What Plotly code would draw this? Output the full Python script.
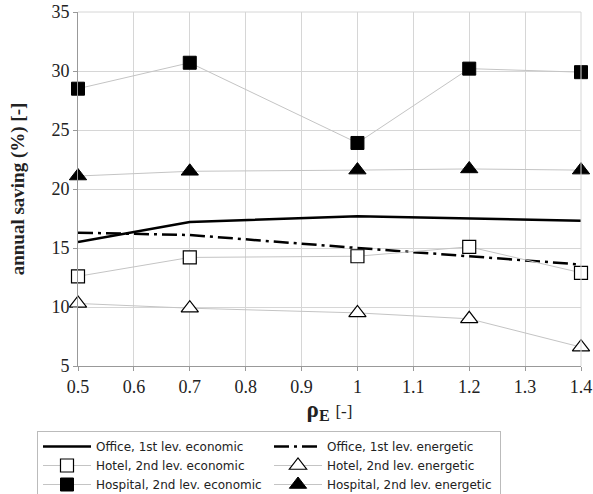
import plotly.graph_objects as go

rho = [0.5, 0.7, 1.0, 1.2, 1.4]
office_econ = [15.5, 17.2, 17.7, 17.5, 17.3]
office_energ = [16.3, 16.1, 15.0, 14.3, 13.6]
hotel_econ = [12.6, 14.2, 14.3, 15.1, 12.9]
hotel_energ = [10.3, 9.9, 9.5, 9.0, 6.6]
hosp_econ = [28.5, 30.7, 23.9, 30.2, 29.9]
hosp_energ = [21.1, 21.5, 21.6, 21.7, 21.6]

names = ["Office, 1st lev. economic", "Office, 1st lev. energetic",
         "Hotel, 2nd lev. economic", "Hotel, 2nd lev. energetic",
         "Hospital, 2nd lev. economic", "Hospital, 2nd lev. energetic"]

fig = go.Figure()
thin = dict(color="#c4c4c4", width=1)
fig.add_trace(go.Scatter(x=rho, y=office_econ, name=names[0], mode="lines",
                         line=dict(color="black", width=2.5)))
fig.add_trace(go.Scatter(x=rho, y=office_energ, name=names[1], mode="lines",
                         line=dict(color="black", width=2.5, dash="15px,5px,3px,5px")))
fig.add_trace(go.Scatter(x=rho, y=hotel_econ, name=names[2], mode="lines+markers",
                         line=thin, cliponaxis=False,
                         marker=dict(symbol="square", size=13, color="white",
                                     line=dict(color="black", width=1.2))))
fig.add_trace(go.Scatter(x=rho, y=hotel_energ, name=names[3], mode="lines+markers",
                         line=thin, cliponaxis=False,
                         marker=dict(symbol="triangle-up", size=15, color="white",
                                     line=dict(color="black", width=1.2))))
fig.add_trace(go.Scatter(x=rho, y=hosp_econ, name=names[4], mode="lines+markers",
                         line=thin, cliponaxis=False,
                         marker=dict(symbol="square", size=13, color="black",
                                     line=dict(color="black", width=1))))
fig.add_trace(go.Scatter(x=rho, y=hosp_energ, name=names[5], mode="lines+markers",
                         line=thin, cliponaxis=False,
                         marker=dict(symbol="triangle-up", size=15, color="black",
                                     line=dict(color="black", width=1))))

serif = "Liberation Serif"
W, H = 593, 494
fig.update_layout(
    width=W, height=H,
    margin=dict(l=78, r=12, t=12, b=128, autoexpand=False),
    plot_bgcolor="white", paper_bgcolor="white",
    showlegend=True,
    legend=dict(orientation="h", xref="container", yref="container",
                x=37/W, y=1-431/H, xanchor="left", yanchor="top",
                entrywidth=168, entrywidthmode="pixels",
                bordercolor="#bbbbbb", borderwidth=1,
                font=dict(family="DejaVu Sans", size=12, color="#222"),
                tracegroupgap=0, itemwidth=48),
    xaxis=dict(range=[0.5, 1.4], dtick=0.1, tick0=0.5,
               showgrid=True, gridcolor="#d6d6d6", gridwidth=1,
               showline=True, linecolor="#999", linewidth=1,
               ticks="outside", ticklen=4, tickcolor="#999",
               zeroline=False, ticklabeloverflow="allow",
               tickfont=dict(family=serif, size=18, color="#222"),
               title=dict(text="<b>ρ<sub>E</sub></b> <span style='font-size:17px'>[-]</span>",
                          standoff=2,
                          font=dict(family=serif, size=23, color="#222"))),
    yaxis=dict(range=[5, 35], dtick=5,
               showgrid=True, gridcolor="#d6d6d6", gridwidth=1,
               showline=True, linecolor="#999", linewidth=1,
               ticks="outside", ticklen=4, tickcolor="#999",
               zeroline=False, ticklabeloverflow="allow",
               tickfont=dict(family=serif, size=18, color="#222"),
               title=dict(text="<b>annual saving (%) [-]</b>", standoff=21,
                          font=dict(family=serif, size=19, color="#222"))),
)
fig.add_shape(type="line", xref="paper", yref="paper", x0=0, x1=1, y0=1, y1=1,
              line=dict(color="#d6d6d6", width=1))
fig.add_shape(type="line", xref="paper", yref="paper", x0=1, x1=1, y0=0, y1=1,
              line=dict(color="#d6d6d6", width=1))

fig.write_html("out.html", config={"displayModeBar": False},
               post_script="document.body.style.margin='0';")
